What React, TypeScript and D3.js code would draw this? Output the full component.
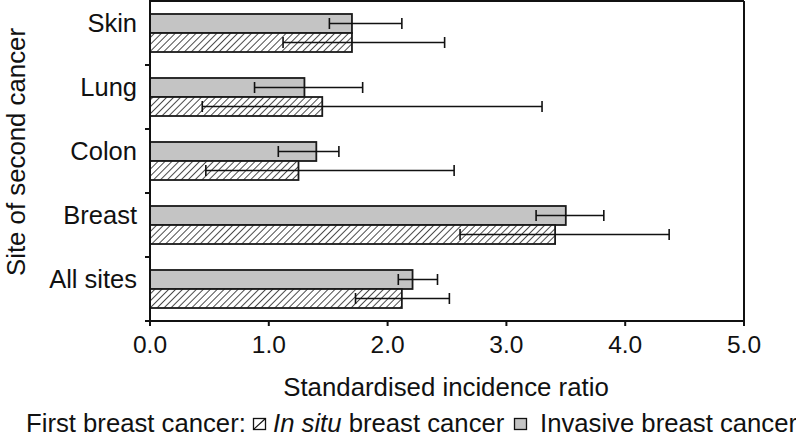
import React from "react";
import * as d3 from "d3";

const categories = ["Skin", "Lung", "Colon", "Breast", "All sites"];
const invasiveSIR = [1.70, 1.30, 1.40, 3.50, 2.21];
const invasiveLow = [1.51, 0.88, 1.08, 3.25, 2.09];
const invasiveHigh = [2.12, 1.79, 1.59, 3.82, 2.42];
const inSituSIR = [1.70, 1.45, 1.25, 3.41, 2.12];
const inSituLow = [1.12, 0.44, 0.47, 2.61, 1.73];
const inSituHigh = [2.48, 3.30, 2.56, 4.37, 2.52];
const xTicks = [0, 1, 2, 3, 4, 5];
const seriesKeys = ["invasive", "insitu"];

const FONT = "'Liberation Sans', Arial, Helvetica, sans-serif";
const W = 796;
const H = 439;
const L = 150, R = 744, T = 1, B = 321;

export default function App() {
  const x = d3.scaleLinear().domain([0, 5]).range([L, R]);
  const y0 = d3.scaleBand<string>().domain(categories).range([T, B]).paddingInner(0).paddingOuter(0);
  const y1 = d3.scaleBand<string>().domain(seriesKeys).range([0, y0.bandwidth()]).paddingInner(0).paddingOuter(0.684);
  const bh = y1.bandwidth();
  const cap = 11;
  const stroke = "#1a1a1a";

  const series = [
    { key: "invasive", vals: invasiveSIR, lo: invasiveLow, hi: invasiveHigh, fill: "#c4c4c4" },
    { key: "insitu", vals: inSituSIR, lo: inSituLow, hi: inSituHigh, fill: "url(#hatch)" },
  ];

  return (
    <svg width={W} height={H} style={{ position: "absolute", left: 0, top: 0, background: "#fff" }} fontFamily={FONT}>
      <defs>
        <pattern id="hatch" width={4.9} height={4.9} patternUnits="userSpaceOnUse" patternTransform="rotate(45)">
          <rect width={4.9} height={4.9} fill="#fff" />
          <line x1={0} y1={0} x2={0} y2={4.9} stroke="#111" strokeWidth={1.5} />
        </pattern>
      </defs>
      <rect width={W} height={H} fill="#fff" />

      {categories.map((c, i) =>
        series.map((s) => {
          const yTop = (y0(c) as number) + (y1(s.key) as number);
          const yc = yTop + bh / 2;
          return (
            <g key={c + s.key}>
              <rect x={x(0)} y={yTop} width={x(s.vals[i]) - x(0)} height={bh} fill={s.fill} stroke={stroke} strokeWidth={1.8} />
              <line x1={x(s.lo[i])} x2={x(s.hi[i])} y1={yc} y2={yc} stroke="#111" strokeWidth={1.6} />
              <line x1={x(s.lo[i])} x2={x(s.lo[i])} y1={yc - cap / 2} y2={yc + cap / 2} stroke="#111" strokeWidth={1.6} />
              <line x1={x(s.hi[i])} x2={x(s.hi[i])} y1={yc - cap / 2} y2={yc + cap / 2} stroke="#111" strokeWidth={1.6} />
            </g>
          );
        })
      )}

      {/* frame */}
      <line x1={L} x2={R} y1={T} y2={T} stroke="#111" strokeWidth={2} />
      <line x1={R} x2={R} y1={T} y2={B} stroke="#111" strokeWidth={2} />
      <line x1={L} x2={L} y1={0} y2={B} stroke="#111" strokeWidth={2} />
      <line x1={L - 5} x2={R} y1={B} y2={B} stroke="#111" strokeWidth={2} />

      {/* y ticks */}
      {categories.map((c) => {
        const yb = (y0(c) as number) + y0.bandwidth();
        return <line key={"yt" + c} x1={L - 5} x2={L} y1={yb} y2={yb} stroke="#111" strokeWidth={2} />;
      })}
      {categories.map((c) => {
        const yc = (y0(c) as number) + y0.bandwidth() / 2;
        return (
          <text key={"yl" + c} x={137} y={yc - 1} textAnchor="end" fontSize={25.5} fill="#111">
            {c}
          </text>
        );
      })}

      {/* x ticks */}
      {xTicks.map((t) => (
        <g key={"xt" + t}>
          <line x1={x(t)} x2={x(t)} y1={B} y2={B + 5} stroke="#111" strokeWidth={2} />
          <text x={x(t)} y={353} textAnchor="middle" fontSize={24.5} fill="#111">
            {d3.format(".1f")(t)}
          </text>
        </g>
      ))}

      <text x={(L + R) / 2 - 1} y={396} textAnchor="middle" fontSize={25.8} fill="#111">
        Standardised incidence ratio
      </text>
      <text transform="translate(25,152) rotate(-90)" textAnchor="middle" fontSize={25.8} fill="#111">
        Site of second cancer
      </text>

      {/* legend */}
      <g fontSize={25.7} fill="#111">
        <text x={26} y={432}>First breast cancer:</text>
        <rect x={253.5} y={418.5} width={12} height={11} fill="#fff" stroke="#111" strokeWidth={1.3} />
        <line x1={253.5} y1={429.5} x2={265.5} y2={418.5} stroke="#111" strokeWidth={1.2} />
        <text x={273} y={432}>
          <tspan fontStyle="italic">In situ</tspan> breast cancer
        </text>
        <rect x={514.5} y={418.5} width={12} height={11} fill="#c4c4c4" stroke="#111" strokeWidth={1.3} />
        <text x={540} y={432}>Invasive breast cancer</text>
      </g>
    </svg>
  );
}
